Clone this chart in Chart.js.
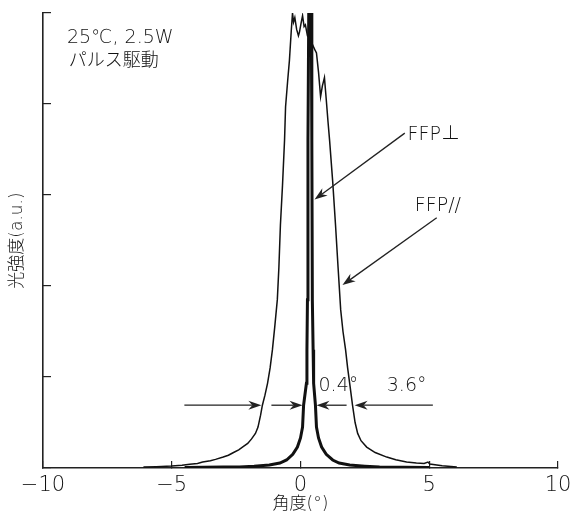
<!DOCTYPE html>
<html>
<head>
<meta charset="utf-8">
<script src="https://cdn.jsdelivr.net/npm/chart.js@4.4.1/dist/chart.umd.min.js"></script>
<style>
html,body{margin:0;padding:0;background:#fff;}
#wrap{width:572px;height:515px;}
</style>
</head>
<body>
<div id="wrap"><canvas id="c" width="572" height="515"></canvas></div>
<script>
// ---- data (angle in degrees, intensity in a.u.) ----
const xTicks = [-10, -5, 0, 5, 10];
const parAngle = [-6.1,-5.6,-5.0,-4.6,-4.3,-4.0,-3.8,-3.5,-3.3,-3.0,-2.8,-2.6,-2.4,-2.2,-2.05,-1.9,-1.75,-1.65,-1.55,-1.48,-1.38,-1.28,-1.18,-1.09,-1.0,-0.9,-0.84,-0.78,-0.70,-0.62,-0.58,-0.50,-0.43,-0.36,-0.31,-0.27,-0.22,-0.15,-0.08,-0.04,0.03,0.08,0.14,0.19,0.27,0.35,0.42,0.47,0.55,0.62,0.70,0.78,0.85,0.93,1.0,1.07,1.13,1.25,1.36,1.46,1.56,1.65,1.75,1.83,1.91,2.02,2.12,2.22,2.35,2.57,2.9,3.35,3.7,4.12,4.5,4.8,4.95,5.02,5.5,6.07];
const parValue = [0.01,0.015,0.022,0.03,0.042,0.05,0.065,0.08,0.095,0.12,0.14,0.17,0.2,0.24,0.27,0.32,0.38,0.45,0.58,0.69,0.8,0.93,1.1,1.3,1.55,1.85,2.2,2.67,3.1,3.6,3.97,4.25,4.48,4.8,5.0,4.9,4.95,4.82,4.75,4.79,4.9,4.97,4.85,4.87,4.75,4.73,4.68,4.65,4.6,4.56,4.35,4.08,4.2,4.29,4.05,3.8,3.6,3.15,2.67,2.2,1.74,1.5,1.3,1.1,0.93,0.69,0.5,0.38,0.3,0.23,0.17,0.12,0.09,0.066,0.055,0.05,0.065,0.044,0.025,0.01];
const perpAngle = [-4.5,-3.0,-2.37,-1.8,-1.21,-0.8,-0.54,-0.3,-0.12,0.0,0.08,0.12,0.23,0.25,0.27,0.29,0.32,0.37,0.42,0.44,0.46,0.49,0.51,0.58,0.62,0.70,0.82,1.0,1.25,1.5,1.91,2.5,3.07,4.0,5.0];
const perpValue = [0.005,0.01,0.012,0.02,0.033,0.055,0.088,0.15,0.23,0.33,0.45,0.69,0.93,1.3,1.85,3.6,5.0,6.5,5.0,3.6,1.85,1.3,0.93,0.69,0.45,0.33,0.23,0.15,0.088,0.055,0.033,0.02,0.01,0.007,0.005];

// ---- annotation texts (data coords) ----
const noteTexts = ['25℃, 2.5W', 'パルス駆動', 'FFP⊥', 'FFP//', '0.4°', '3.6°'];
const noteX = [-9.07, -9.0, 4.16, 4.44, 0.70, 3.35];
const noteY = [4.73, 4.49, 3.66, 2.88, 0.90, 0.90];
// arrows: from (x1,y1) to tip (x2,y2)
const arrowX1 = [4.05, 5.29, -4.51, -1.13, 1.79, 5.14];
const arrowY1 = [3.68, 2.75, 0.69, 0.69, 0.69, 0.69];
const arrowX2 = [0.545, 1.63, -1.52, 0.08, 0.62, 2.10];
const arrowY2 = [2.95, 2.01, 0.69, 0.69, 0.69, 0.69];

const FONT = '"DejaVu Sans", "Noto Sans CJK JP", sans-serif';
const CJK = '"Noto Sans CJK JP", "DejaVu Sans", sans-serif';
const INK = '#222';
const TXT = '#111';
const W = '200';

function pts(xs, ys){ return xs.map((x,i)=>({x:x, y:ys[i]})); }

const annotPlugin = {
  id: 'annot',
  afterDatasetsDraw(chart){
    const ctx = chart.ctx, sx = chart.scales.x, sy = chart.scales.y;
    ctx.save();
    ctx.fillStyle = TXT;
    ctx.textAlign = 'left';
    ctx.textBaseline = 'middle';
    noteTexts.forEach((t,i)=>{
      ctx.font = (/[\u3040-\u9fff]/.test(t) ? '300 18px ' + CJK : W + ' 19px ' + FONT);
      ctx.fillText(t, sx.getPixelForValue(noteX[i]), sy.getPixelForValue(noteY[i]));
    });
    ctx.fillStyle = INK;
    ctx.strokeStyle = INK;
    ctx.lineWidth = 1.3;
    arrowX1.forEach((x1,i)=>{
      const px1 = sx.getPixelForValue(x1), py1 = sy.getPixelForValue(arrowY1[i]);
      const px2 = sx.getPixelForValue(arrowX2[i]), py2 = sy.getPixelForValue(arrowY2[i]);
      const ang = Math.atan2(py2-py1, px2-px1);
      const L = 13, HW = 4.5, N = 9;
      ctx.beginPath(); ctx.moveTo(px1,py1);
      ctx.lineTo(px2 - Math.cos(ang)*N, py2 - Math.sin(ang)*N); ctx.stroke();
      ctx.beginPath();
      ctx.moveTo(px2, py2);
      ctx.lineTo(px2 - Math.cos(ang)*L + Math.sin(ang)*HW, py2 - Math.sin(ang)*L - Math.cos(ang)*HW);
      ctx.lineTo(px2 - Math.cos(ang)*N, py2 - Math.sin(ang)*N);
      ctx.lineTo(px2 - Math.cos(ang)*L - Math.sin(ang)*HW, py2 - Math.sin(ang)*L + Math.cos(ang)*HW);
      ctx.closePath(); ctx.fill();
    });
    ctx.restore();
  }
};

new Chart(document.getElementById('c'), {
  type: 'line',
  data: {
    datasets: [
      { label: 'FFP//', data: pts(parAngle, parValue), borderColor: '#111', borderWidth: 1.5, pointRadius: 0, tension: 0, fill: false },
      { label: 'FFP⊥', data: pts(perpAngle, perpValue), borderColor: '#111', borderWidth: 3, pointRadius: 0, tension: 0, fill: false }
    ]
  },
  options: {
    responsive: false,
    animation: false,
    devicePixelRatio: 1,
    layout: { padding: { top: 13, right: 14, left: 0, bottom: 0 } },
    plugins: { legend: { display: false }, tooltip: { enabled: false } },
    scales: {
      x: {
        type: 'linear', min: -10, max: 10,
        afterBuildTicks: (s)=>{ s.ticks = xTicks.map(v=>({value:v})); },
        grid: { drawOnChartArea: false, drawTicks: true, tickLength: -7, color: INK, lineWidth: 1.2 },
        border: { color: INK, width: 1.6 },
        ticks: { color: TXT, font: { family: FONT, size: 21, weight: W }, padding: 12, maxRotation: 0,
                 callback: (v)=> (v < 0 ? '−' + Math.abs(v) : String(v)) },
        title: { display: true, text: '角度(°)', color: TXT, font: { family: FONT, size: 17, weight: W }, padding: { top: 0, bottom: 0 } },
        afterFit: (s)=>{ s.height = 47; s.paddingLeft = 0; s.paddingRight = 0; }
      },
      y: {
        min: 0, max: 5,
        ticks: { stepSize: 1, display: false },
        grid: { drawOnChartArea: false, drawTicks: true, tickLength: -8, color: INK, lineWidth: 1.2 },
        border: { color: INK, width: 1.6 },
        title: { display: true, text: '光強度(a.u.)', color: TXT, font: { family: FONT, size: 17, weight: W }, padding: { top: 7, bottom: 0 } },
        afterFit: (s)=>{ s.width = 43; }
      }
    }
  },
  plugins: [annotPlugin]
});
</script>
</body>
</html>
